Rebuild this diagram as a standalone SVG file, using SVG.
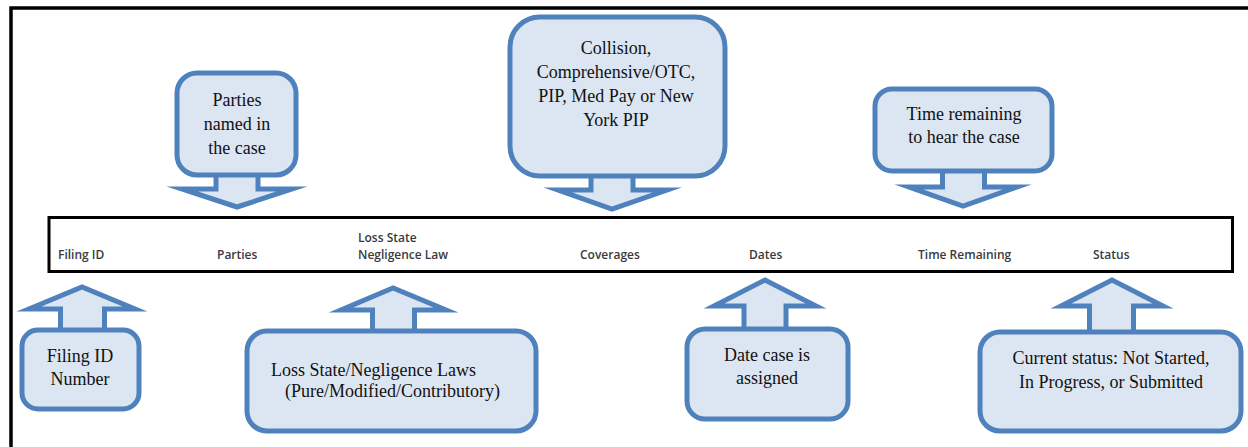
<svg xmlns="http://www.w3.org/2000/svg" width="1248" height="447" viewBox="0 0 1248 447">
<style>
.frame{fill:none;stroke:#000;stroke-width:3.5}
.bar{fill:#fff;stroke:#000;stroke-width:3}
.hd{font-family:'Open Sans','Liberation Sans',sans-serif;font-weight:600;font-size:12px;fill:#3a3a3a}
.co{fill:#DCE6F2;stroke:#4F81BD;stroke-width:5;stroke-linejoin:miter;stroke-miterlimit:10}
.tx{font-size:18px;fill:#111;text-anchor:middle}
.txl{font-size:18px;fill:#111}
</style>
<rect width="1248" height="447" fill="#fff"/>
<path class="frame" d="M11,447 V8 H1248"/>
<g id="header">
<rect class="bar" x="49" y="217.5" width="1183.5" height="54"/>
<text class="hd" x="58" y="259">Filing ID</text>
<text class="hd" x="217" y="259">Parties</text>
<text class="hd" x="358" y="242">Loss State</text>
<text class="hd" x="358" y="259">Negligence Law</text>
<text class="hd" x="580" y="259">Coverages</text>
<text class="hd" x="749" y="259">Dates</text>
<text class="hd" x="918" y="259">Time Remaining</text>
<text class="hd" x="1093" y="259">Status</text>
</g>
<g id="connectors">
<polygon class="co" points="216,170 216,189 182,189 237,207 292,189 258,189 258,170"/>
<polygon class="co" points="591,170 591,190 558,190 612,209 667,190 633,190 633,170"/>
<polygon class="co" points="942.5,165 942.5,187 909,187 963,206 1017,187 984.5,187 984.5,165"/>
<polygon class="co" points="60.5,335 60.5,309 29,309 82,287 135,309 104.5,309 104.5,335"/>
<polygon class="co" points="372.5,336 372.5,310 341,310 393,288 446,310 414.5,310 414.5,336"/>
<polygon class="co" points="744,334 744,306 714,306 765,280 816,306 786,306 786,334"/>
<polygon class="co" points="1089.5,337 1089.5,306 1061,306 1112,280 1163,306 1133.5,306 1133.5,337"/>
</g>
<g font-family="Liberation Serif, Times New Roman, DejaVu Serif, serif">
<g id="parties">
<rect class="co" x="177" y="73" width="119" height="102" rx="20"/>
<text class="tx" x="237" y="106">Parties</text>
<text class="tx" x="237" y="130">named in</text>
<text class="tx" x="237" y="154">the case</text>
</g>
<g id="coverages">
<rect class="co" x="510" y="17" width="215" height="159" rx="30"/>
<text class="tx" x="616" y="54">Collision,</text>
<text class="tx" x="616" y="78">Comprehensive/OTC,</text>
<text class="tx" x="616" y="102">PIP, Med Pay or New</text>
<text class="tx" x="616" y="126">York PIP</text>
</g>
<g id="time">
<rect class="co" x="875" y="89" width="177" height="82" rx="17"/>
<text class="tx" x="964" y="120">Time remaining</text>
<text class="tx" x="964" y="143">to hear the case</text>
</g>
<g id="filing">
<rect class="co" x="22" y="330" width="117" height="79" rx="16"/>
<text class="tx" x="80" y="362">Filing ID</text>
<text class="tx" x="80" y="385">Number</text>
</g>
<g id="loss">
<rect class="co" x="247" y="331" width="289" height="100" rx="20"/>
<text class="txl" x="271" y="376">Loss State/Negligence Laws</text>
<text class="txl" x="285" y="397">(Pure/Modified/Contributory)</text>
</g>
<g id="dates">
<rect class="co" x="687" y="329" width="161" height="90" rx="18"/>
<text class="tx" x="767" y="361">Date case is</text>
<text class="tx" x="767" y="384">assigned</text>
</g>
<g id="status">
<rect class="co" x="980" y="332" width="261" height="99" rx="20"/>
<text class="tx" x="1111" y="364">Current status: Not Started,</text>
<text class="tx" x="1111" y="388">In Progress, or Submitted</text>
</g>
</g>
</svg>
